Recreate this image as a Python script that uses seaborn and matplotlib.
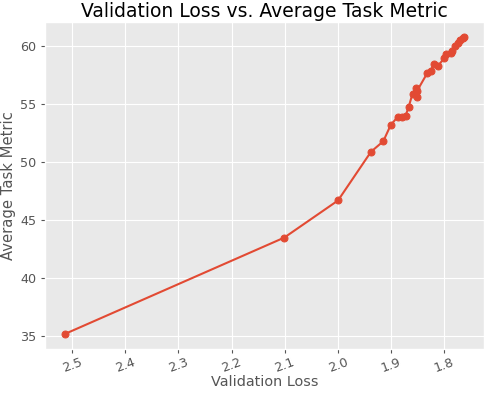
import matplotlib
matplotlib.use("Agg")
import matplotlib.pyplot as plt
import seaborn as sns
import pandas as pd

plt.style.use("ggplot")

# validation loss vs average task metric
val_loss = [2.513, 2.101, 2.000, 1.938, 1.915, 1.901, 1.888, 1.879, 1.873, 1.867,
            1.860, 1.853, 1.851, 1.852, 1.832, 1.826, 1.819, 1.812, 1.800, 1.797,
            1.787, 1.785, 1.780, 1.774, 1.771, 1.765, 1.763]
avg_metric = [35.2, 43.5, 46.7, 50.9, 51.8, 53.2, 53.9, 53.9, 54.0, 54.8,
              55.9, 56.4, 55.6, 56.1, 57.7, 57.9, 58.5, 58.3, 59.0, 59.3,
              59.4, 59.6, 60.0, 60.3, 60.5, 60.7, 60.8]

df = pd.DataFrame({"val_loss": val_loss, "avg_metric": avg_metric})

fig, ax = plt.subplots(figsize=(4.86, 3.94), dpi=100)
sns.lineplot(data=df, x="val_loss", y="avg_metric", sort=False, marker="o",
             color="#E24A33", markeredgecolor="#E24A33", markersize=5,
             linewidth=1.5, ax=ax)

ax.invert_xaxis()
ax.set_facecolor("#E9E9E9")
ax.set_title("Validation Loss vs. Average Task Metric", fontsize=13.5, color="black", pad=4)
ax.set_xlabel("Validation Loss", fontsize=10.4, labelpad=0)
ax.set_ylabel("Average Task Metric", fontsize=10.6, labelpad=3)
ax.tick_params(labelsize=9.2, length=3)
ax.tick_params(axis="x", pad=2)
plt.setp(ax.get_xticklabels(), rotation=20)

fig.subplots_adjust(left=0.093, right=0.996, top=0.944, bottom=0.115)
plt.savefig("out.png", dpi=100)
